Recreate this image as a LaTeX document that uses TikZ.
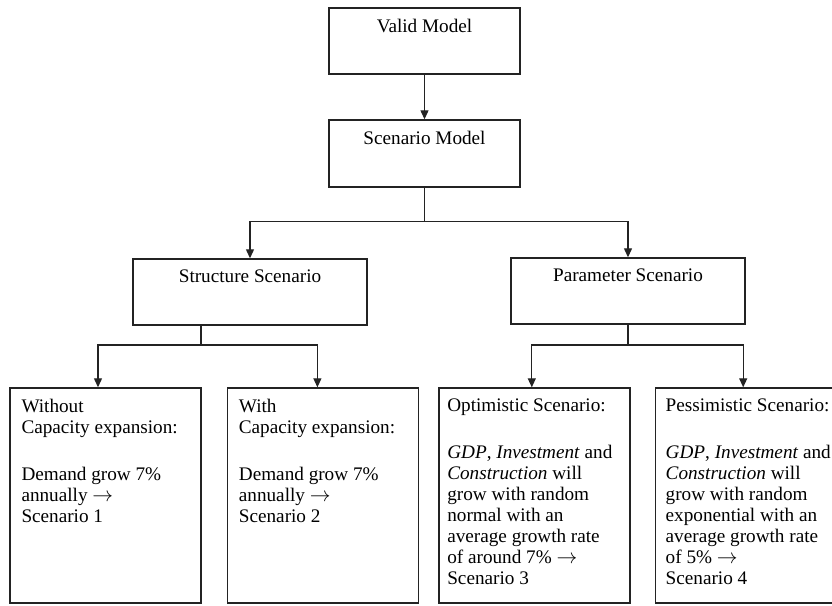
\documentclass[tikz,border=0pt]{standalone}
\usepackage{fontspec}
\setmainfont{Liberation Serif}
\usetikzlibrary{arrows.meta,positioning}
\definecolor{linha}{RGB}{35,35,35}
\newcommand{\topstrut}{\rule{0pt}{15pt}}

\begin{document}
\begin{tikzpicture}[x=1pt,y=-1pt,
        node distance=25pt,
        panel/.style={draw=linha,line width=1.4pt,inner sep=0pt,
                      minimum width=191pt,minimum height=66pt},
        tall/.style={panel,minimum height=215pt},
        title/.style={anchor=base,inner sep=0pt,font=\fontsize{19.2}{21}\selectfont},
        body/.style={anchor=north west,inner sep=0pt,align=left,
                     font=\fontsize{19.2}{21}\selectfont},
        wire/.style={draw=linha,line width=1.2pt},
        arr/.style={wire,-{Triangle[length=9pt,width=8pt]}}]
      \useasboundingbox (0,0) rectangle (832,605);
      % boxes
      \node[panel] (valid) at (424.5,41) {};
      \node[panel,minimum height=67pt] (scen) at (424.5,153.5) {};
      \node[panel,minimum width=234pt] (struct) at (250,292) {};
      \node[panel,minimum width=234pt] (param) at (628,291) {};
      \node[tall] (b1) at (105.5,495.5) {};
      \node[tall,right=25pt of b1] (b2) {};
      \node[tall,right=19pt of b2] (b3) {};
      \node[tall,right=24pt of b3,minimum width=181pt] (b4) {};
      % titles
      \node[title] (tvalid) at ([yshift=-25pt]valid.north) {Valid Model};
      \node[title] (tscen) at ([yshift=-25pt]scen.north) {Scenario Model};
      \node[title] (tstruct) at ([yshift=-24pt]struct.north) {Structure Scenario};
      \node[title] (tparam) at ([yshift=-24pt]param.north) {Parameter Scenario};
      % texts
      \node[body] (t1) at ([xshift=12pt,yshift=-10pt]b1.north west)
        {\topstrut Without\\Capacity expansion:\\[25.5pt]Demand grow 7\%\\annually $\rightarrow$\\Scenario 1};
      \node[body] (t2) at ([xshift=12pt,yshift=-10pt]b2.north west)
        {\topstrut With\\Capacity expansion:\\[25.5pt]Demand grow 7\%\\annually $\rightarrow$\\Scenario 2};
      \node[body] (t3) at ([xshift=9pt,yshift=-9pt]b3.north west)
        {\topstrut Optimistic Scenario:\\[25.5pt]\textit{GDP}, \textit{Investment} and\\\textit{Construction} will\\grow with random\\normal with an\\average growth rate\\of around 7\% $\rightarrow$\\Scenario 3};
      \node[body] (t4) at ([xshift=11pt,yshift=-9pt]b4.north west)
        {\topstrut Pessimistic Scenario:\\[25.5pt]\textit{GDP}, \textit{Investment} and\\\textit{Construction} will\\grow with random\\exponential with an\\average growth rate\\of 5\% $\rightarrow$\\Scenario 4};
      % connectors
      \draw[arr] (valid) -- (scen);
      \coordinate (j1) at ([yshift=-34pt]scen.south);
      \draw[wire] (scen) -- (j1);
      \draw[arr] (j1) -| (struct.north);
      \draw[arr] (j1) -| (param.north);
      \coordinate (j2) at (201,345);
      \coordinate (j3) at (param.south |- j2);
      \draw[wire] (struct.south -| j2) -- (j2);
      \draw[arr] (j2) -| ([xshift=-7.5pt]b1.north);
      \draw[arr] (j2) -| ([xshift=-5.5pt]b2.north);
      \draw[wire] (param.south) -- (j3);
      \draw[arr] (j3) -| ([xshift=-2.5pt]b3.north);
      \draw[arr] (j3) -| ([xshift=-2.5pt]b4.north);
    \end{tikzpicture}
\end{document}
